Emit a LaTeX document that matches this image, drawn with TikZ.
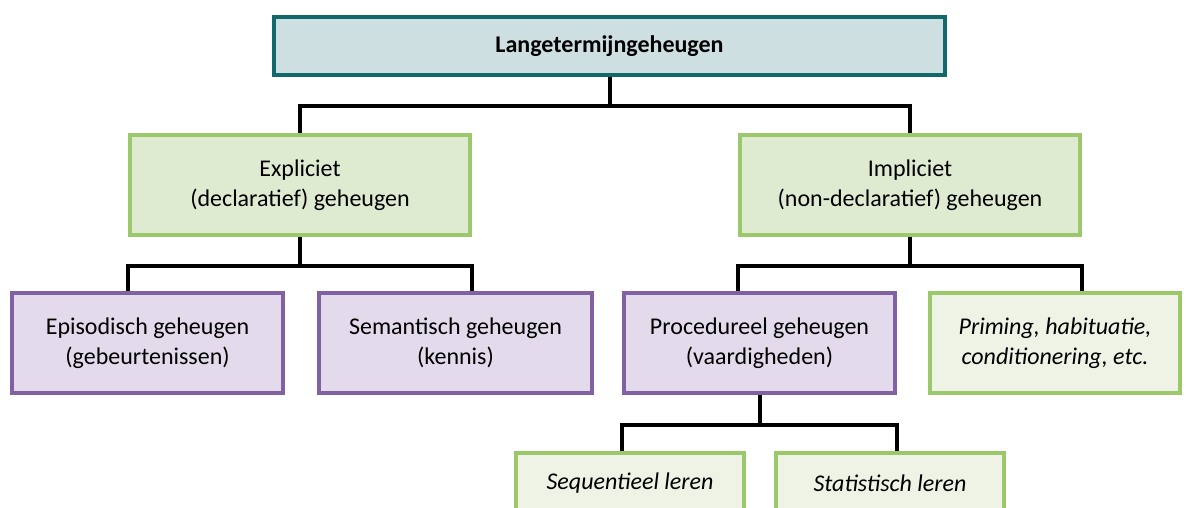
\documentclass[tikz,border=0pt]{standalone}
\usepackage{fontspec}
\setmainfont{Carlito}
\usepackage{tikz}
\usetikzlibrary{calc}
\usepackage{xcolor}
\definecolor{tealrand}{HTML}{11696B}
\definecolor{tealvul}{HTML}{CDDFE1}
\definecolor{groenrand}{HTML}{9AC86A}
\definecolor{groenvul}{HTML}{DFEBD1}
\definecolor{lichtgroen}{HTML}{EEF3E5}
\definecolor{paarsrand}{HTML}{8161A1}
\definecolor{paarsvul}{HTML}{E3DBEB}
\tikzset{
    doos/.style = {draw, line width = 1.8pt, align = center, inner sep = 0pt,
        font = \fontsize{12}{15}\selectfont},
    hoofddoos/.style = {doos, draw = tealrand, fill = tealvul, font = \fontsize{12}{15}\selectfont\bfseries},
    groendoos/.style = {doos, draw = groenrand, fill = groenvul},
    paarsdoos/.style = {doos, draw = paarsrand, fill = paarsvul},
    lichtdoos/.style = {doos, draw = groenrand, fill = lichtgroen, font = \fontsize{12}{15}\selectfont\itshape},
    verbinding/.style = {line width = 2pt}
}

\begin{document}
\begin{tikzpicture}[x = 0.5pt, y = -0.5pt]
    % Rand
    \useasboundingbox (0,0) rectangle (1189,508);
    % Niveau 1
    \node[hoofddoos, minimum width = 335.5pt, minimum height = 29pt] (lang) at (609.5,46) {Langetermijngeheugen};
    % Niveau 2
    \node[groendoos, minimum width = 170pt, minimum height = 50pt] (expl) at (300,185) {Expliciet\\(declaratief) geheugen};
    \node[groendoos, minimum width = 170pt, minimum height = 50pt] (impl) at (910,185) {Impliciet\\(non-declaratief) geheugen};
    % Niveau 3
    \node[paarsdoos, minimum width = 135.5pt, minimum height = 50pt] (epis) at (147.5,343) {Episodisch geheugen\\(gebeurtenissen)};
    \node[paarsdoos, minimum width = 136.5pt, minimum height = 50pt] (sem) at (455.5,343) {Semantisch geheugen\\(kennis)};
    \node[paarsdoos, minimum width = 135.5pt, minimum height = 50pt] (proc) at (759.5,343) {Procedureel geheugen\\(vaardigheden)};
    \node[lichtdoos, minimum width = 125pt, minimum height = 50pt] (prim) at (1055,343) {Priming, habituatie,\\conditionering, etc.};
    % Niveau 4
    \node[lichtdoos, minimum width = 114pt, minimum height = 30pt] (seq) at (630,483) {Sequentieel leren};
    \node[lichtdoos, minimum width = 114pt, minimum height = 30pt] (stat) at (890,483) {Statistisch leren};

    % Verbindingen
    \draw[verbinding] (lang.south) -- ++(0,-14.5pt) -| (expl.north);
    \draw[verbinding] (lang.south) -- ++(0,-14.5pt) -| (impl.north);
    \draw[verbinding] (expl.south) -- ++(0,-14.5pt) -| (epis.north -| expl.west);
    \draw[verbinding] (expl.south) -- ++(0,-14.5pt) -| (sem.north -| expl.east);
    \draw[verbinding] (impl.south) -- ++(0,-14.5pt) -| (proc.north -| impl.west);
    \draw[verbinding] (impl.south) -- ++(0,-14.5pt) -| (prim.north -| impl.east);
    \draw[verbinding] (proc.south) -- ++(0,-15pt) -| (seq.north -| proc.west);
    \draw[verbinding] (proc.south) -- ++(0,-15pt) -| (stat.north -| proc.east);
\end{tikzpicture}
\end{document}
